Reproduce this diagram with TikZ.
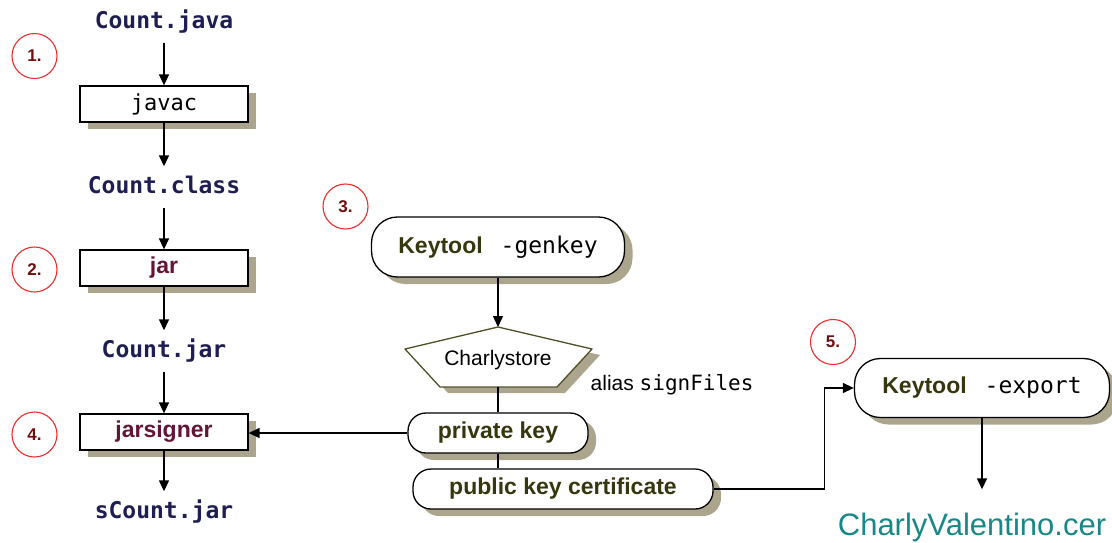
\documentclass[tikz,border=0pt]{standalone}
\usepackage{fontspec}
\setmainfont{Liberation Sans}
\newfontfamily\monof{DejaVu Sans Mono}
\usetikzlibrary{arrows.meta,shadows}
\definecolor{navy}{RGB}{30,30,82}
\definecolor{maroonc}{RGB}{100,20,55}
\definecolor{olivek}{RGB}{55,55,15}
\definecolor{numred}{RGB}{235,45,45}
\definecolor{numtext}{RGB}{110,15,15}
\definecolor{shadowc}{RGB}{170,165,140}
\definecolor{tealc}{RGB}{25,135,135}
\definecolor{storeline}{RGB}{80,80,40}
\begin{document}
\begin{tikzpicture}[x=1pt,y=-1pt,
  line width=1.4pt,
  arr/.style={-{Triangle[length=11pt,width=10pt]}},
  shade/.style={drop shadow={shadow xshift=8pt,shadow yshift=-7pt,fill=shadowc,opacity=1}},
  file/.style={font=\monof\bfseries\fontsize{23}{26}\selectfont, text=navy,
    anchor=base, text height=17pt, text depth=5pt, inner xsep=0pt, inner ysep=9pt},
  proc/.style={draw, line width=1.3pt, fill=white, shade,
    minimum width=168pt, minimum height=36pt, inner sep=0pt},
  procb/.style={proc, font=\bfseries\fontsize{23}{26}\selectfont, text=maroonc},
  pill/.style={draw, line width=1.3pt, fill=white, shade, inner sep=0pt,
    font=\bfseries\fontsize{23}{26}\selectfont, text=olivek},
  num/.style={circle, draw=numred, line width=1.1pt, minimum size=45pt, inner sep=0pt,
    text=numtext, font=\bfseries\fontsize{17}{20}\selectfont},
  plain/.style={font=\fontsize{21}{24}\selectfont}
]
\useasboundingbox (0,0) rectangle (1112,542);

% build chain on the left
\node[file] (java)  at (164,28)  {Count.java};
\node[proc, font=\monof\fontsize{22}{26}\selectfont] (javac) at (164,104) {javac};
\node[file] (class) at (164,193) {Count.class};
\node[procb] (jar)    at (164,268) {jar};
\node[file] (cjar)  at (164,357) {Count.jar};
\node[procb] (signer) at (164,432) {jarsigner};
\node[file] (sjar)  at (164,518) {sCount.jar};

\draw[arr] (java)   -- (javac);
\draw[arr] (javac)  -- (class);
\draw[arr] (class)  -- (jar);
\draw[arr] (jar)    -- (cjar);
\draw[arr] (cjar)   -- (signer);
\draw[arr] (signer) -- (sjar);

% step numbers
\node[num] (n1) at (34.5,56)    {1.};
\node[num] (n2) at (34.5,269.5) {2.};
\node[num] (n4) at (34.5,434.5) {4.};
\node[num] (n3) at (345.5,206.5) {3.};
\node[num] (n5) at (833,342)    {5.};

% key generation
\node[pill, rounded corners=26pt, minimum width=253pt, minimum height=60pt] (gen) at (498,247)
  {Keytool\hspace{18pt}{\monof\mdseries\color{black}-genkey}};

% keystore
\coordinate (stTop) at (498,327);
\coordinate (stBot) at (498,387);
\fill[shadowc] (505,333) -- (600,355) -- (565,393) -- (448,393) -- (413,355) -- cycle;
\draw[storeline, line width=1.3pt, fill=white, line join=round]
  (stTop) -- (592,349) -- (557,387) -- (440,387) -- (405,349) -- cycle;
\node[plain] (store) at (498,360) {Charlystore};
\node[plain, anchor=base west, inner sep=0pt] (alias) at (590,390) {alias {\monof signFiles}};
\draw[arr] (gen.south) -- (stTop);

% key entries
\node[pill, rounded corners=18pt, minimum width=180pt, minimum height=40pt] (pk) at (498,433) {private key};
\node[pill, rounded corners=18pt, minimum width=300pt, minimum height=40pt] (pub) at (563,489) {public key certificate};
\draw (stBot) -- (pk.north -| stBot);
\draw (pk.south -| stBot) -- (pub.north -| stBot);
\draw[arr] (pk.west) -- (pk.west -| signer.east);

% certificate export
\node[pill, rounded corners=26pt, minimum width=255pt, minimum height=59pt] (exp) at (982,388)
  {Keytool\hspace{18pt}{\monof\mdseries\color{black}-export}};
\draw[arr] (pub.east) -- ++(111,0) |- (exp.west);
\node[font=\fontsize{31}{34}\selectfont, text=tealc, anchor=base, text height=23pt, text depth=7pt,
  inner xsep=0pt, inner ysep=22pt] (cer) at (972,535) {CharlyValentino.cer};
\draw[arr] (exp.south) -- (exp.south |- cer.north);
\end{tikzpicture}
\end{document}
